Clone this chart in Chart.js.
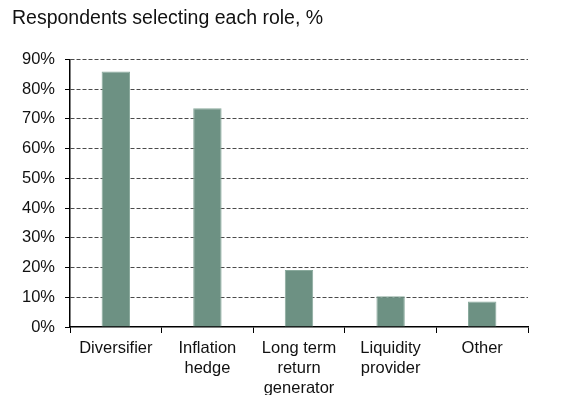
<!DOCTYPE html>
<html>
<head>
<meta charset="utf-8">
<script src="https://cdn.jsdelivr.net/npm/chart.js@4/dist/chart.umd.min.js"></script>
<style>
  html, body { margin: 0; padding: 0; background: #fff; }
  #wrap { width: 564px; height: 395px; position: relative; }
</style>
</head>
<body>
<div id="wrap"><canvas id="chart"></canvas></div>
<script>
// values
const categories = [
  'Diversifier',
  ['Inflation', 'hedge'],
  ['Long term', 'return', 'generator'],
  ['Liquidity', 'provider'],
  'Other'
];
const shares = [85.9, 73.6, 19.2, 10.3, 8.6];
const yTicks = [0, 10, 20, 30, 40, 50, 60, 70, 80, 90];

const barColor = '#6d9183';
const font = "'Liberation Sans', Arial, sans-serif";

new Chart(document.getElementById('chart'), {
  type: 'bar',
  data: {
    labels: categories,
    datasets: [{
      data: shares,
      backgroundColor: barColor,
      borderColor: '#8aaa9d',
      borderWidth: 1,
      categoryPercentage: 0.31,
      barPercentage: 1
    }]
  },
  options: {
    responsive: true,
    maintainAspectRatio: false,
    animation: false,
    layout: { padding: { left: 12, right: 36, top: 0, bottom: 0 } },
    plugins: {
      legend: { display: false },
      tooltip: { enabled: false },
      title: {
        display: true,
        text: 'Respondents selecting each role, %',
        align: 'start',
        color: '#111',
        font: { family: font, size: 19.5, weight: 'normal' },
        padding: { top: 7, bottom: 29 }
      }
    },
    scales: {
      x: {
        grid: {
          offset: true,
          drawOnChartArea: false,
          color: '#000',
          tickLength: 6
        },
        border: { color: '#000', width: 1.5 },
        ticks: {
          color: '#111',
          font: { family: font, size: 16.5, lineHeight: 1.2 },
          padding: 6,
          maxRotation: 0
        },
        afterFit(scale) { scale.height = 68; }
      },
      y: {
        min: 0,
        max: 90,
        afterBuildTicks(scale) { scale.ticks = yTicks.map(v => ({ value: v })); },
        grid: {
          color: ctx => ctx.tick && ctx.tick.value === 0 ? 'rgba(0,0,0,0)' : '#4a4a4a',
          tickColor: '#000',
          tickLength: 5,
          lineWidth: 1
        },
        border: { color: '#000', width: 1.5, dash: [4, 2] },
        ticks: {
          color: '#111',
          font: { family: font, size: 16.5 },
          padding: 10,
          callback: v => v + '%'
        },
        afterFit(scale) { scale.width = 58; }
      }
    }
  }
});
</script>
</body>
</html>
